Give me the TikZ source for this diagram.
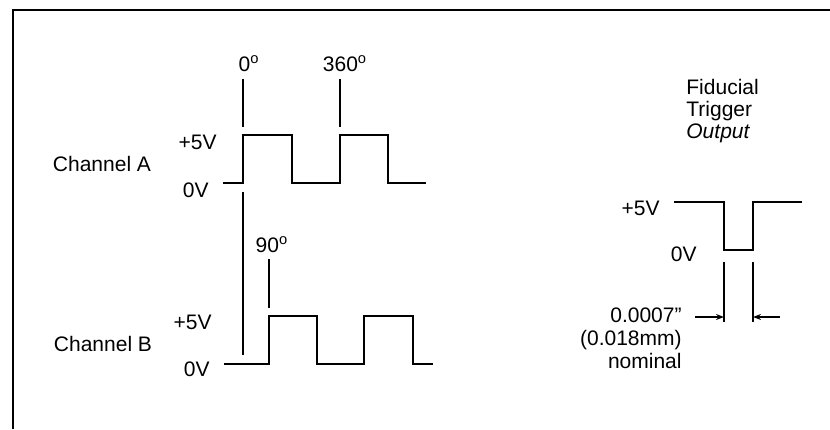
\documentclass[tikz,border=0pt]{standalone}
\usepackage{fontspec}
\setmainfont{Liberation Sans}
\usetikzlibrary{calc,arrows.meta}
\tikzset{wave/.style={line width=1pt}, lbl/.style={font=\fontsize{10.5}{11}\selectfont, inner sep=0pt}}
\newcommand{\dg}{\textsuperscript{o}}

\begin{document}
\begin{tikzpicture}[x=0.5pt,y=-0.5pt]
 \useasboundingbox (0,0) rectangle (830,429);
 \draw[line width=1.4pt] (830,10) -- (13,10) -- (13,429);
 % channel A
 \coordinate (A0) at (223,183); \coordinate (A1) at (243,183); \coordinate (A2) at (292,183); \coordinate (A3) at (340,183); \coordinate (A4) at (388,183); \coordinate (A5) at (426,183);
 \draw[wave] (A0) -- (A1) -- ($(A1)+(0,-48)$) -- ($(A2)+(0,-48)$) -- (A2) -- (A3) -- ($(A3)+(0,-48)$) -- ($(A4)+(0,-48)$) -- (A4) -- (A5);
 \draw[wave] (243,79) -- (243,127); \draw[wave] (340,79) -- (340,127); \draw[wave] (243,192) -- (243,355);
 \node[lbl] (chA) at (102,164) {Channel A};
 \node[lbl,anchor=east] (hiA) at (217,142) {+5V}; \node[lbl,anchor=east] (loA) at (209,190) {0V};
 \node[lbl] (deg0) at (249,64) {0\dg}; \node[lbl] (deg360) at (345,64) {360\dg};
 % channel B
 \coordinate (B0) at (224,364); \coordinate (B1) at (269,364); \coordinate (B2) at (317,364); \coordinate (B3) at (364,364); \coordinate (B4) at (413,364); \coordinate (B5) at (433,364);
 \draw[wave] (B0) -- (B1) -- ($(B1)+(0,-48)$) -- ($(B2)+(0,-48)$) -- (B2) -- (B3) -- ($(B3)+(0,-48)$) -- ($(B4)+(0,-48)$) -- (B4) -- (B5);
 \draw[wave] (269,259) -- (269,308);
 \node[lbl] (chB) at (103,344) {Channel B};
 \node[lbl,anchor=east] (hiB) at (212,322) {+5V}; \node[lbl,anchor=east] (loB) at (210,369) {0V};
 \node[lbl] (deg90) at (272,245) {90\dg};
 % fiducial trigger
 \node[lbl,anchor=north west,align=left] (fid) at (686,79) {Fiducial\\Trigger\\\textit{Output}};
 \coordinate (F0) at (674,202); \coordinate (F1) at (724,202); \coordinate (F2) at (753,202); \coordinate (F3) at (802,202);
 \draw[wave] (F0) -- (F1) -- ($(F1)+(0,48)$) -- ($(F2)+(0,48)$) -- (F2) -- (F3);
 \node[lbl,anchor=east] (hiF) at (660,208) {+5V}; \node[lbl,anchor=east] (loF) at (697,254) {0V};
 \draw[wave] (724,262) -- (724,322); \draw[wave] (753,262) -- (753,322);
 \draw[line width=0.8pt,-{Stealth[length=4pt,width=3pt]}] (695,317) -- (724,317);
 \draw[line width=0.8pt,-{Stealth[length=4pt,width=3pt]}] (780,317) -- (753,317);
 \node[lbl,anchor=north east,align=right,font=\fontsize{10.5}{11.5}\selectfont] (width) at (682,307) {0.0007''\\(0.018mm)\\nominal};
\end{tikzpicture}
\end{document}
